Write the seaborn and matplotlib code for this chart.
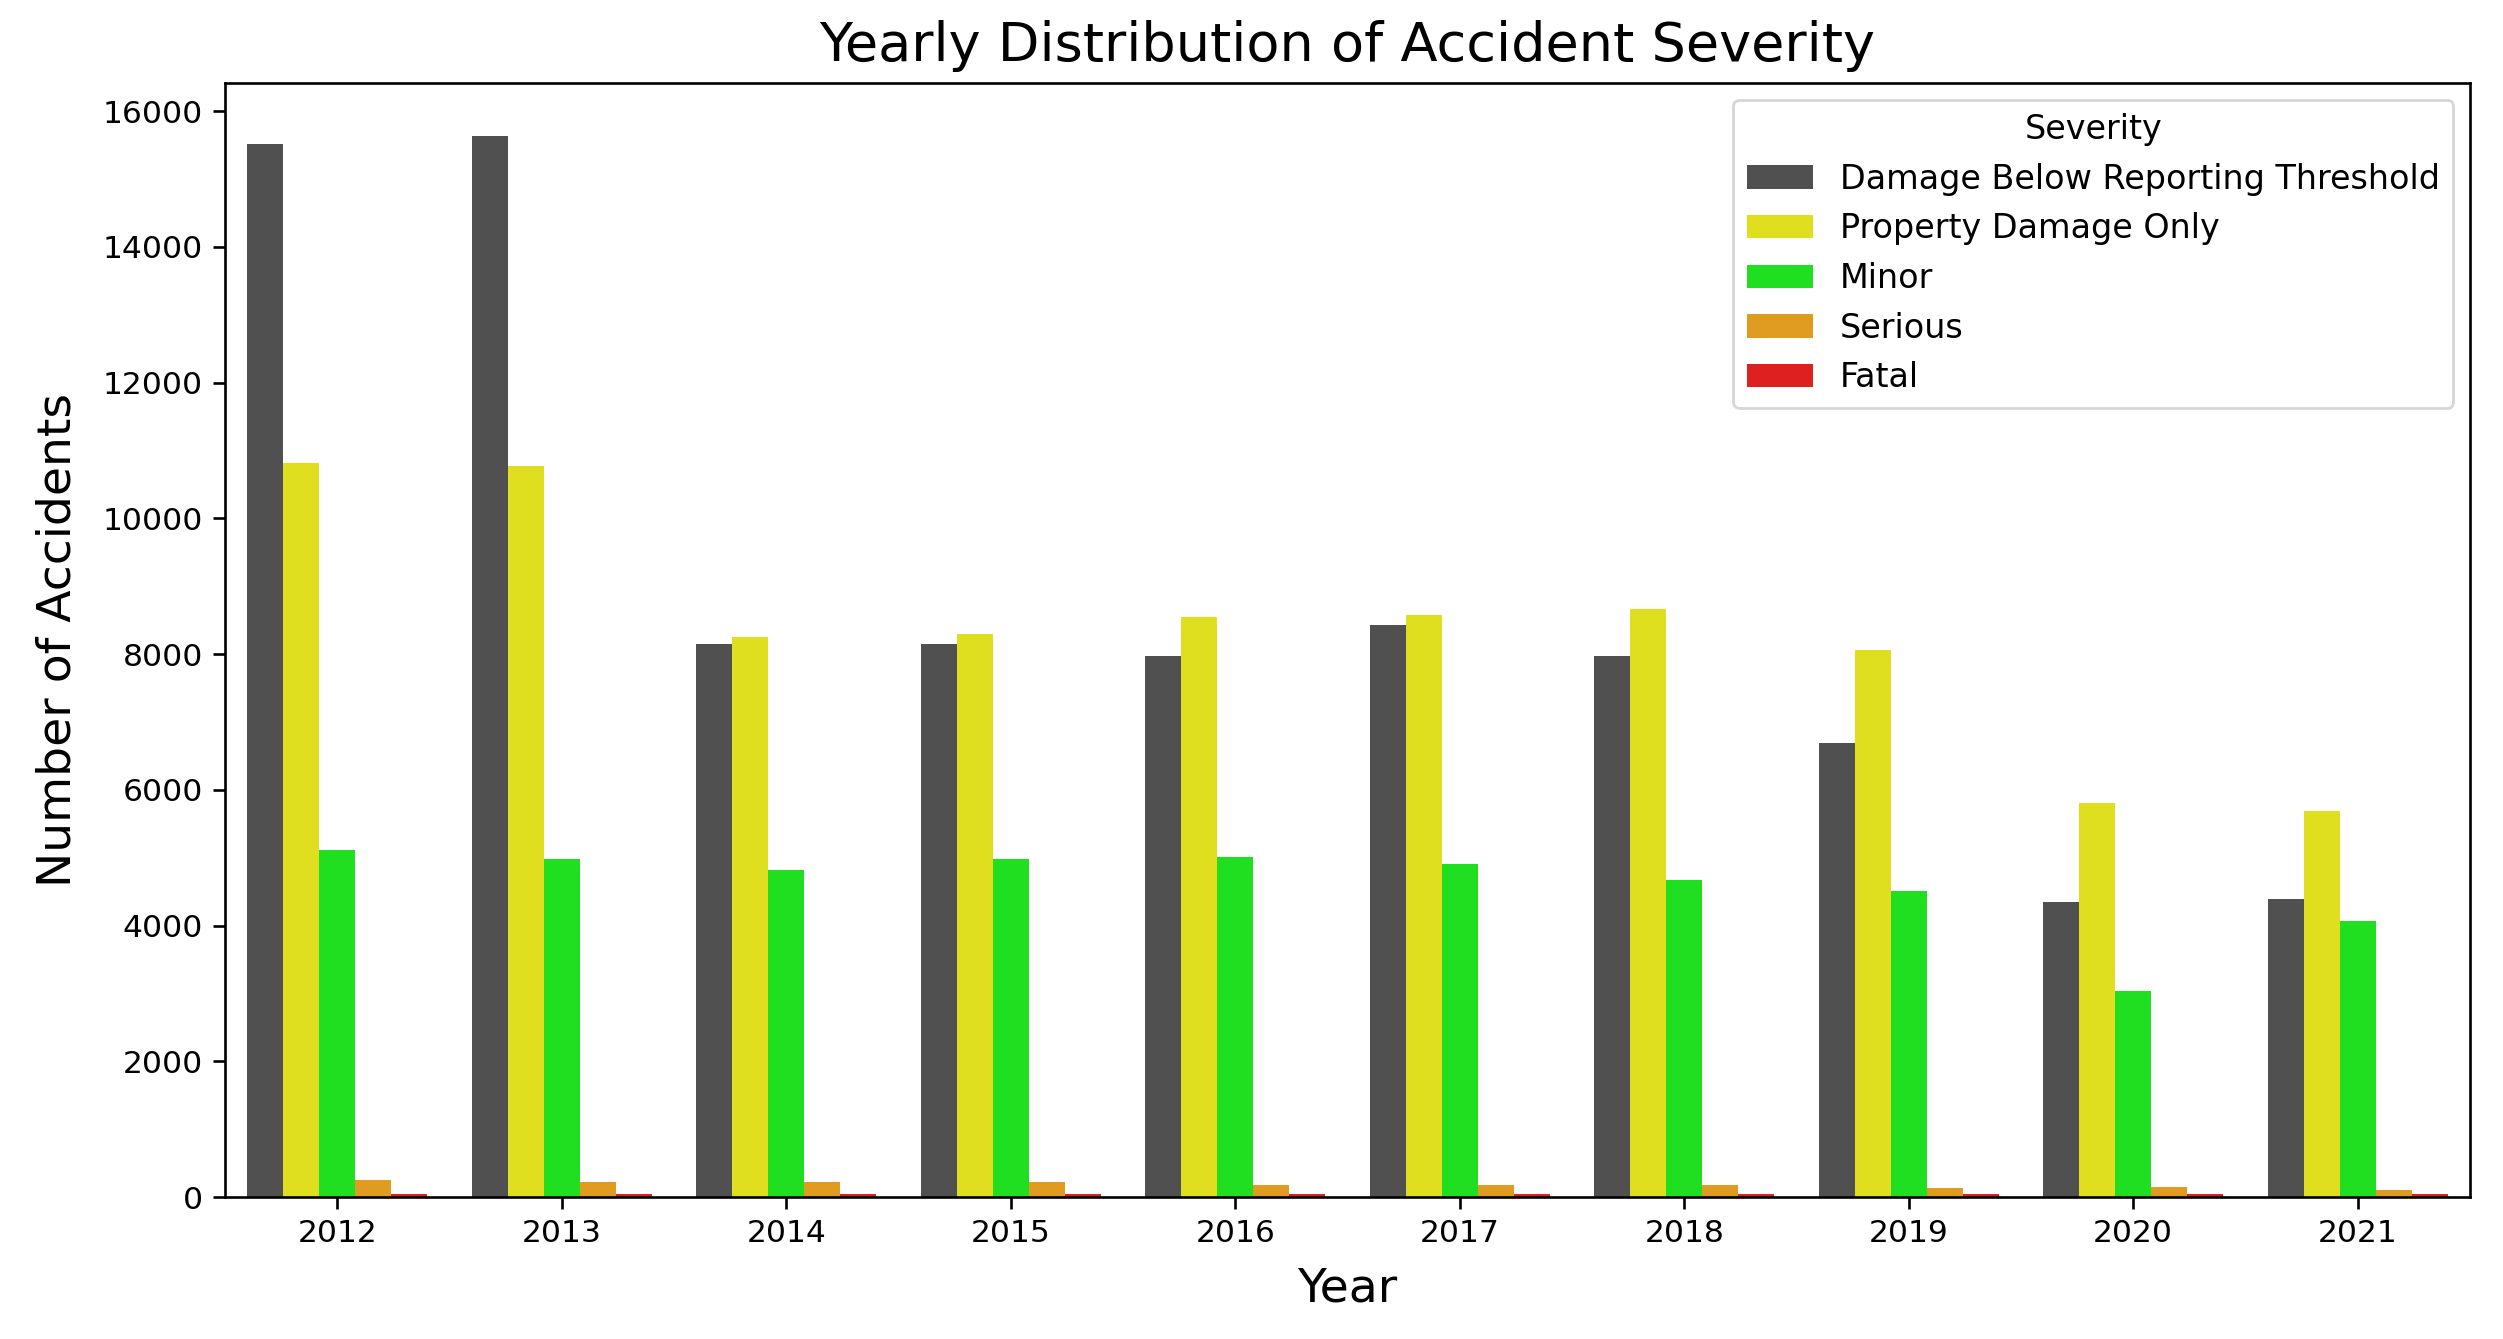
import pandas as pd
import numpy as np
import matplotlib
matplotlib.use("Agg")
import matplotlib.pyplot as plt
import seaborn as sns

years = [2012, 2013, 2014, 2015, 2016, 2017, 2018, 2019, 2020, 2021]
severity_levels = ['Damage Below Reporting Threshold', 'Property Damage Only',
                   'Minor', 'Serious', 'Fatal']

below_threshold = [15515, 15632, 8150, 8150, 7965, 8430, 7965, 6690, 4345, 4395]
property_damage = [10810, 10765, 8250, 8295, 8550, 8575, 8670, 8060, 5800, 5690]
minor = [5120, 4980, 4815, 4980, 5005, 4910, 4675, 4510, 3030, 4065]
serious = [255, 216, 216, 216, 181, 181, 181, 137, 147, 108]
fatal = [44, 44, 42, 44, 42, 42, 42, 42, 40, 42]

severity_colors = {
    'Damage Below Reporting Threshold': '#505050',
    'Property Damage Only': 'yellow',
    'Minor': 'lime',
    'Serious': 'orange',
    'Fatal': 'red',
}

rows = []
for i, yr in enumerate(years):
    for sev, vals in zip(severity_levels,
                         [below_threshold, property_damage, minor, serious, fatal]):
        rows.append({'Year': yr, 'Severity': sev, 'Count': vals[i]})
df = pd.DataFrame(rows)

plt.rcParams['axes.linewidth'] = 0.95
fig = plt.figure(figsize=(12.515, 6.695), dpi=200)
ax = fig.add_axes([0.0899, 0.106, 0.8969, 0.832])
sns.barplot(data=df, x='Year', y='Count', hue='Severity',
            hue_order=severity_levels, palette=severity_colors, ax=ax)

ax.set_title('Yearly Distribution of Accident Severity', fontsize=19.5, pad=8)
ax.set_xlabel('Year', fontsize=17, labelpad=6.5)
ax.set_ylabel('Number of Accidents', fontsize=17, labelpad=8)
ax.tick_params(labelsize=11.3, length=4.4, width=0.95)
ax.legend(title='Severity', loc='upper right', fontsize=12, title_fontsize=12)

fig.savefig('out.png', dpi=200)
plt.close(fig)
